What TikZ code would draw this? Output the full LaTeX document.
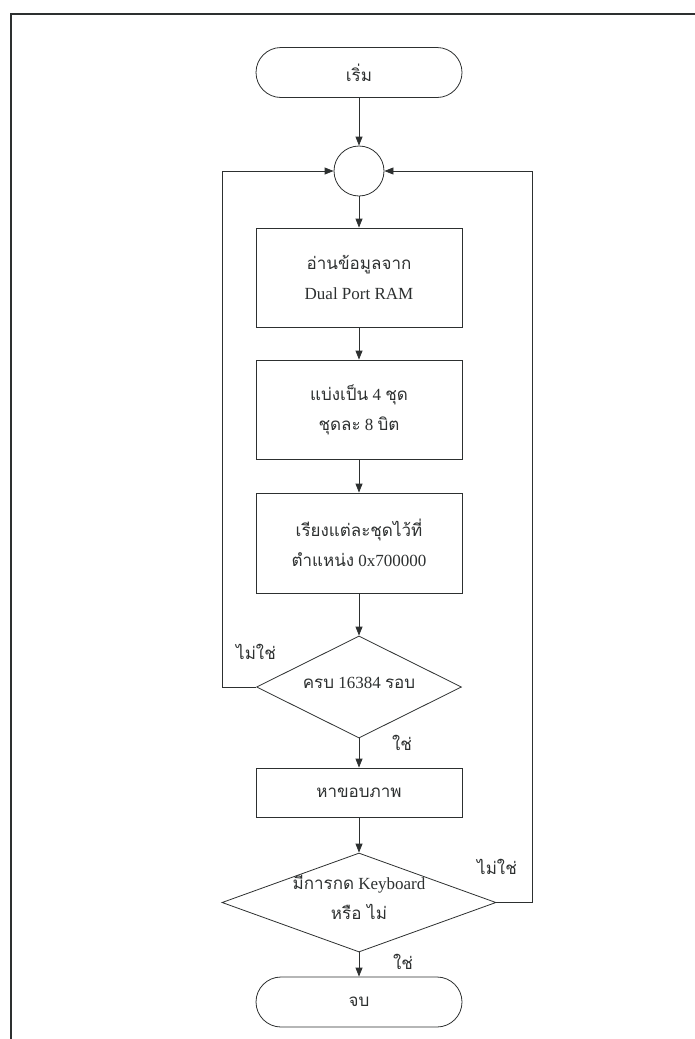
\documentclass[tikz,border=0pt]{standalone}
\usepackage{fontspec}
\setmainfont{Liberation Serif}
\newfontfamily\thaifont[Script=Thai]{Loma}
\newcommand\thtxt[1]{{\thaifont #1}}
% text of a decision box, kept out of the diamond's size
\newcommand\dtext[1]{\smash{\makebox[0pt]{\begin{tabular}{@{}c@{}}#1\end{tabular}}}}
\usetikzlibrary{shapes.geometric,arrows.meta}
\definecolor{ink}{RGB}{45,48,48}
\begin{document}
\begin{tikzpicture}[x=1pt,y=-1pt,
  every node/.style={text=ink, font=\fontsize{17}{30}\selectfont},
  line/.style={draw=ink, line width=0.8pt},
  arr/.style={line, -{Triangle[length=9pt,width=7pt]}},
  frame/.style={draw=ink, line width=1.3pt},
  term/.style={line, rectangle, rounded corners=25pt, minimum width=206pt, minimum height=50pt, inner sep=0pt},
  proc/.style={line, rectangle, minimum width=206pt, minimum height=99pt, inner sep=0pt, align=center},
  dec/.style={line, diamond, inner sep=0pt},
  joint/.style={line, circle, minimum size=50pt, inner sep=0pt},
  lbl/.style={inner sep=1pt}]
\useasboundingbox (0,0) rectangle (695,1039);

% page frame (top and left edges)
\draw[frame] (11,1039) -- (11,14) -- (695,14);

% flow nodes
\node[term] (start) at (359,72.5) {\thtxt{เริ่ม}};
\node[joint] (join) at (359,171) {};
\node[proc] (read) at (359,277.5) {\thtxt{อ่านข้อมูลจาก}\\Dual Port RAM};
\node[proc] (split) at (359,409.5) {\thtxt{แบ่งเป็น} 4 \thtxt{ชุด}\\\thtxt{ชุดละ} 8 \thtxt{บิต}};
\node[proc, minimum height=100pt] (arrange) at (359,543) {\thtxt{เรียงแต่ละชุดไว้ที่}\\\thtxt{ตำแหน่ง} 0x700000};
\node[dec, minimum width=205pt, minimum height=102pt] (full) at (359,687) {\dtext{\thtxt{ครบ} 16384 \thtxt{รอบ}}};
\node[proc, minimum height=49pt] (edge) at (359,792.5) {\thtxt{หาขอบภาพ}};
\node[dec, minimum width=274pt, minimum height=99pt] (key) at (359,902.5) {\dtext{\thtxt{มีการกด} Keyboard\\\thtxt{หรือ ไม่}}};
\node[term] (stop) at (359,1002) {\thtxt{จบ}};

% branch labels
\node[lbl] (no1) at (256,652) {\thtxt{ไม่ใช่}};
\node[lbl] (yes1) at (402,743) {\thtxt{ใช่}};
\node[lbl] (no2) at (497,867) {\thtxt{ไม่ใช่}};
\node[lbl] (yes2) at (403,962) {\thtxt{ใช่}};

% main flow
\draw[arr] (start) -- (join);
\draw[arr] (join) -- (read);
\draw[arr] (read) -- (split);
\draw[arr] (split) -- (arrange);
\draw[arr] (arrange) -- (full);
\draw[arr] (full) -- (edge);
\draw[arr] (edge) -- (key);
\draw[arr] (key) -- (stop);

% loop-backs to the joint
\coordinate (lx) at (222,0);
\coordinate (rx) at (532,0);
\draw[arr] (full.west) -- (full.west -| lx) |- (join.west);
\draw[arr] (key.east) -- (key.east -| rx) |- (join.east);
\end{tikzpicture}
\end{document}
